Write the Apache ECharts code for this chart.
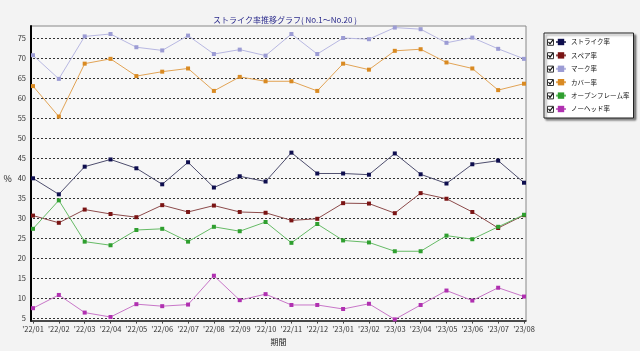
<!DOCTYPE html>
<html>
<head>
<meta charset="utf-8">
<script src="https://cdn.jsdelivr.net/npm/echarts@6/dist/echarts.min.js"></script>
<style>
  html, body { margin: 0; padding: 0; background: #f3f3f3; }
  #main { width: 640px; height: 351px; }
</style>
</head>
<body>
<div id="main"></div>
<script>
// 期間
const months = ["'22/01", "'22/02", "'22/03", "'22/04", "'22/05", "'22/06", "'22/07", "'22/08", "'22/09", "'22/10",
  "'22/11", "'22/12", "'23/01", "'23/02", "'23/03", "'23/04", "'23/05", "'23/06", "'23/07", "'23/08"]

const strike = [40.0, 36.0, 42.9, 44.7, 42.5, 38.5, 44.0, 37.7, 40.5, 39.2, 46.4, 41.2, 41.2, 40.9, 46.2, 41.0, 38.7, 43.5, 44.4, 38.9]
const spare = [30.7, 28.9, 32.2, 31.1, 30.3, 33.3, 31.6, 33.2, 31.6, 31.4, 29.5, 29.9, 33.8, 33.7, 31.3, 36.3, 34.9, 31.6, 27.6, 30.8]
const mark = [70.7, 64.8, 75.4, 76.0, 72.7, 71.9, 75.6, 71.0, 72.1, 70.6, 76.0, 71.0, 75.0, 74.7, 77.6, 77.2, 73.8, 75.1, 72.3, 69.8]
const cover = [63.0, 55.4, 68.6, 69.8, 65.5, 66.6, 67.4, 61.8, 65.3, 64.2, 64.2, 61.8, 68.6, 67.1, 71.8, 72.2, 68.9, 67.4, 62.0, 63.6]
const openFrame = [27.4, 34.5, 24.2, 23.3, 27.1, 27.4, 24.2, 27.9, 26.8, 29.1, 23.9, 28.6, 24.5, 24.0, 21.8, 21.8, 25.7, 24.8, 27.9, 30.9]
const noHead = [7.6, 10.9, 6.5, 5.4, 8.6, 8.1, 8.5, 15.7, 9.6, 11.1, 8.4, 8.4, 7.4, 8.7, 4.8, 8.4, 12.0, 9.5, 12.7, 10.5]

const yTicks = { min: 5, max: 75, step: 5 }

const chart = echarts.init(document.getElementById('main'))
const font = 'Noto Sans CJK JP'

function line(name, data, dot, stroke) {
  return {
    name: name,
    type: 'line',
    data: data,
    xAxisIndex: 1,
    yAxisIndex: 1,
    clip: false,   // a few points sit above 75, inside the outer frame
    symbol: 'rect',
    symbolSize: 4,
    showSymbol: true,
    itemStyle: { color: dot },
    lineStyle: { color: stroke, width: 1 },
    emphasis: { disabled: true },
    z: 3
  }
}

// legend checkboxes (decoration only)
const boxes = []
for (let i = 0; i < 6; i++) {
  const y = 38.8 + i * 13.4
  boxes.push({
    type: 'rect', left: 547, top: y, z: 100,
    shape: { width: 6, height: 6 },
    style: { fill: '#fff', stroke: '#333', lineWidth: 1 }
  })
  boxes.push({
    type: 'polyline', z: 101,
    shape: { points: [[548.5, y + 3], [550, y + 5], [553, y + 1]] },
    style: { stroke: '#111', lineWidth: 1.2, fill: null }
  })
}

chart.setOption({
  backgroundColor: '#f3f3f3',
  animation: false,
  textStyle: { fontFamily: font },
  title: {
    text: 'ストライク率推移グラフ( No.1～No.20 )',
    left: 208, top: 11,
    textStyle: { fontSize: 8, fontWeight: 'normal', color: '#2b2b8c', fontFamily: font }
  },
  legend: {
    orient: 'vertical',
    left: 544, top: 33,
    padding: [4, 4, 4, 11],
    itemWidth: 10, itemHeight: 8, itemGap: 3.4,
    backgroundColor: '#fff',
    borderColor: '#222', borderWidth: 1,
    shadowColor: 'rgba(0,0,0,0.45)', shadowBlur: 2, shadowOffsetX: 2, shadowOffsetY: 2,
    selectedMode: false,
    textStyle: { fontSize: 6.5, lineHeight: 10, color: '#111', fontFamily: font }
  },
  grid: [
    { left: 31, right: 114, top: 26, bottom: 30, show: true, backgroundColor: '#f7f7f7', borderColor: '#888', borderWidth: 1 },
    { left: 33, right: 116, top: 38, bottom: 32 }
  ],
  xAxis: [
    { gridIndex: 0, type: 'value', min: 0, max: 1, axisLine: { show: true, lineStyle: { color: '#222', width: 1.5 } },
      axisTick: { show: false }, axisLabel: { show: false }, splitLine: { show: false } },
    { gridIndex: 1, type: 'category', data: months, boundaryGap: false, offset: 2,
      name: '期間', nameLocation: 'middle', nameGap: 17,
      nameTextStyle: { fontSize: 8, color: '#222', fontFamily: font },
      axisLine: { show: false },
      axisTick: { show: true, length: 3, lineStyle: { color: '#444' } },
      axisLabel: { fontSize: 7.5, color: '#333', margin: 5, interval: 0, fontFamily: font },
      splitLine: { show: false } }
  ],
  yAxis: [
    { gridIndex: 0, type: 'value', min: 0, max: 1, axisLine: { show: true, lineStyle: { color: '#000', width: 2 } },
      axisTick: { show: false }, axisLabel: { show: false }, splitLine: { show: false } },
    { gridIndex: 1, type: 'value', min: yTicks.min, max: yTicks.max, interval: yTicks.step,
      name: '%', nameLocation: 'middle', nameRotate: 0, nameGap: 20,
      nameTextStyle: { fontSize: 9, color: '#222', padding: [0, 0, 8, 0] },
      axisLine: { show: false }, axisTick: { show: false },
      axisLabel: { fontSize: 7.5, color: '#333', margin: 7, fontFamily: font },
      splitLine: { show: true, lineStyle: { color: '#333', type: [2, 2], width: 1 } } }
  ],
  series: [
    line('ストライク率', strike, '#0e0e4e', '#4e4e6e'),
    line('スペア率', spare, '#7a1414', '#8c4a4a'),
    line('マーク率', mark, '#9c9cd4', '#b8b8e2'),
    line('カバー率', cover, '#d98a22', '#e2a456'),
    line('オープンフレーム率', openFrame, '#2f9f2f', '#66bb66'),
    line('ノーヘッド率', noHead, '#b030b0', '#c876c8')
  ],
  graphic: boxes
})
</script>
</body>
</html>
